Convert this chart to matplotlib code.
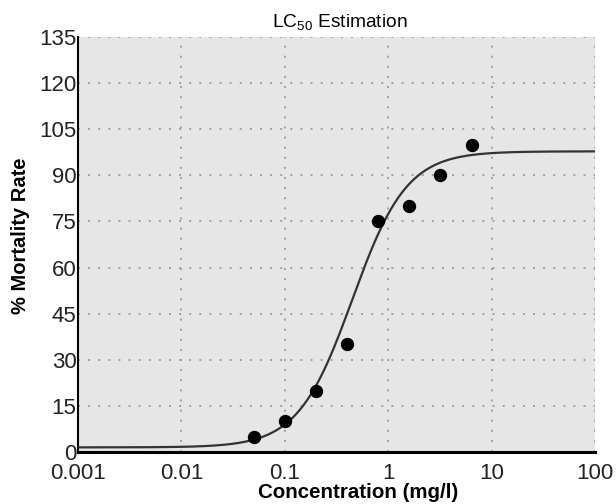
import numpy as np
import matplotlib.pyplot as plt

plt.rcParams['font.family'] = ['Liberation Sans', 'DejaVu Sans']
plt.rcParams['mathtext.fontset'] = 'custom'
plt.rcParams['mathtext.rm'] = 'Liberation Sans'

# observed mortality
conc = [0.05, 0.1, 0.2, 0.4, 0.8, 1.6, 3.2, 6.4]
mortality = [5, 10, 20, 35, 75, 80, 90, 100]

# fitted dose-response curve (4-parameter logistic)
bottom, top = 1.5, 97.8
lc50 = 0.45
hill = 1.65

x_ticks = [0.001, 0.01, 0.1, 1, 10, 100]
x_labels = ['0.001', '0.01', '0.1', '1', '10', '100']
y_ticks = list(range(0, 136, 15))


def logistic(x):
    return bottom + (top - bottom) / (1 + (lc50 / x) ** hill)


fig = plt.figure(figsize=(6.16, 5.04), dpi=100)
ax = fig.add_axes([0.1266, 0.1032, 0.8394, 0.8234])
ax.set_facecolor('#e6e6e6')

xs = np.logspace(-3, 2, 400)
ax.plot(xs, logistic(xs), color='#333333', lw=1.6, zorder=3)
ax.plot(conc, mortality, 'o', color='black', ms=8.6, zorder=4)

ax.set_xscale('log')
ax.set_xlim(0.001, 100)
ax.set_ylim(0, 135)
ax.set_xticks(x_ticks)
ax.set_xticklabels(x_labels)
ax.minorticks_off()
ax.set_yticks(y_ticks)
ax.tick_params(length=0, labelsize=16, colors='#222222')
ax.tick_params(axis='x', pad=8)
ax.tick_params(axis='y', pad=1)

ax.grid(True, color='#a0a0a0', lw=1.4, linestyle=(0, (1, 4.2)))
ax.set_axisbelow(True)

for s in ['top', 'right']:
    ax.spines[s].set_visible(False)
ax.spines['left'].set_linewidth(1.5)
ax.spines['bottom'].set_linewidth(2.2)

ax.set_title(r'LC$_{\mathregular{50}}$ Estimation', fontsize=13.8, pad=7, x=0.507)
ax.set_xlabel('Concentration (mg/l)', fontsize=14.8, fontweight='bold')
ax.xaxis.set_label_coords(0.542, -0.074)
ax.set_ylabel('% Mortality Rate', fontsize=14.5, fontweight='bold')
ax.yaxis.set_label_coords(-0.092, 0.52)

fig.savefig('out.png', dpi=100)
